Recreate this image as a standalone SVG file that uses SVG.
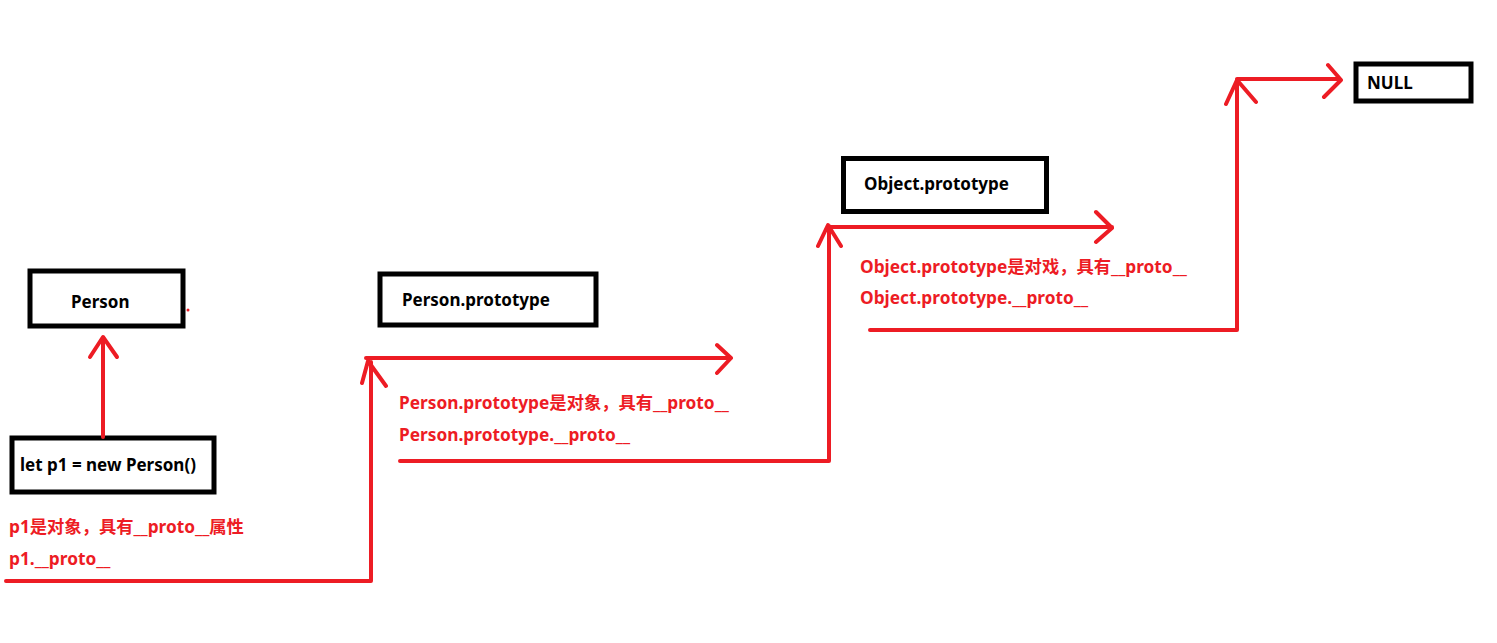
<svg xmlns="http://www.w3.org/2000/svg" width="1497" height="643" viewBox="0 0 1497 643">
<style>
.box{fill:#fff;stroke:#000;stroke-width:5}
.bt{font-family:"Noto Sans","Noto Sans CJK SC",sans-serif;font-weight:bold;font-size:17px;fill:#000}
.rt{font-family:"Noto Sans","Noto Sans CJK SC",sans-serif;font-weight:bold;font-size:17.3px;fill:#ed1c24}
.ln{fill:none;stroke:#ed1c24;stroke-width:4;stroke-linecap:round;stroke-linejoin:round}
</style>
<rect width="1497" height="643" fill="#fff"/>
<g id="person"><rect class="box" x="30" y="271" width="153" height="55"/><text class="bt" x="71" y="308">Person</text></g>
<g id="p1"><rect class="box" x="12" y="438" width="202" height="54"/><text class="bt" x="20" y="471">let p1 = new Person()</text></g>
<g id="personProto"><rect class="box" x="380" y="274" width="216" height="51"/><text class="bt" x="402" y="306">Person.prototype</text></g>
<g id="objectProto"><rect class="box" x="843.5" y="158.5" width="203" height="53"/><text class="bt" x="864" y="190">Object.prototype</text></g>
<g id="null"><rect class="box" x="1356" y="64" width="115" height="37"/><text class="bt" x="1367" y="89">NULL</text></g>
<g id="labels">
<text class="rt" x="9" y="533">p1是对象，具有__proto__属性</text>
<text class="rt" x="9" y="565">p1.__proto__</text>
<text class="rt" x="399" y="409">Person.prototype是对象，具有__proto__</text>
<text class="rt" x="399" y="441">Person.prototype.__proto__</text>
<text class="rt" x="860" y="273">Object.prototype是对戏，具有__proto__</text>
<text class="rt" x="860" y="304">Object.prototype.__proto__</text>
</g>
<g id="connectors">
<circle cx="188" cy="310" r="1.5" fill="#ed1c24"/>
<path class="ln" d="M103 437V338M90 357L103 337L117 357"/>
<path class="ln" d="M6 581H371V362M362 383L368 361L386 386"/>
<path class="ln" d="M366 358H731M717 345L731 358L717 373"/>
<path class="ln" d="M400 461H829V226M818 246L828 225L841 246"/>
<path class="ln" d="M829 227H1112M1096 212L1112 228L1096 242"/>
<path class="ln" d="M870 330H1237V80M1226 104L1237 80L1256 102"/>
<path class="ln" d="M1237 79H1340M1328 65L1341 80L1324 97"/>
</g>
</svg>
